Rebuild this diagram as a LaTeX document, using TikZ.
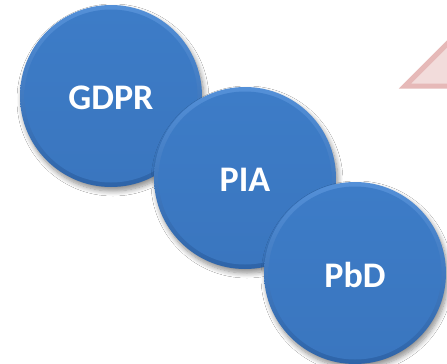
\documentclass[tikz,border=0pt]{standalone}
\usepackage{fontspec}
\setmainfont{Carlito}
\usetikzlibrary{shadows.blur}
\definecolor{ballrim}{HTML}{2E64A8}
\definecolor{ballhi}{HTML}{5490D8}
\definecolor{ballmid}{HTML}{3D7CC7}
\definecolor{ballin}{HTML}{3A76BF}
\definecolor{triline}{HTML}{E6B9B8}
\definecolor{trifill}{HTML}{F2DCDB}
\tikzset{
  ball/.style={circle, minimum size=182pt, inner sep=0pt,
    top color=ballhi, bottom color=ballrim, draw=none,
    blur shadow={shadow xshift=2pt, shadow yshift=-4pt, shadow blur steps=8, shadow blur radius=5pt, shadow opacity=45}},
  ballface/.style={circle, minimum size=173pt, inner sep=0pt,
    top color=ballmid, bottom color=ballin, draw=none},
  balltext/.style={text=white, font=\bfseries\fontsize{36}{36}\selectfont},
}
\begin{document}
\begin{tikzpicture}[x=1pt,y=-1pt]
\useasboundingbox (0,0) rectangle (447,364);
\fill[white] (0,0) rectangle (447,364);
\begin{scope}
\clip (0,0) rectangle (447,364);
\draw[triline, fill=trifill, line width=5pt, line join=miter] (405,86) -- (510,-19) -- (615,86) -- cycle;
\end{scope}
\node[ball] (g0) at (111,96) {};
\node[ballface] (g1) at (g0.center) {};
\node[balltext] (g) at (111,98) {GDPR};
\node[ball] (p0) at (245,178) {};
\node[ballface] (p1) at (p0.center) {};
\node[balltext] (p) at (245,180) {PIA};
\node[ball] (b0) at (355,273) {};
\node[ballface] (b1) at (b0.center) {};
\node[balltext] (b) at (355,275) {PbD};
\end{tikzpicture}
\end{document}
